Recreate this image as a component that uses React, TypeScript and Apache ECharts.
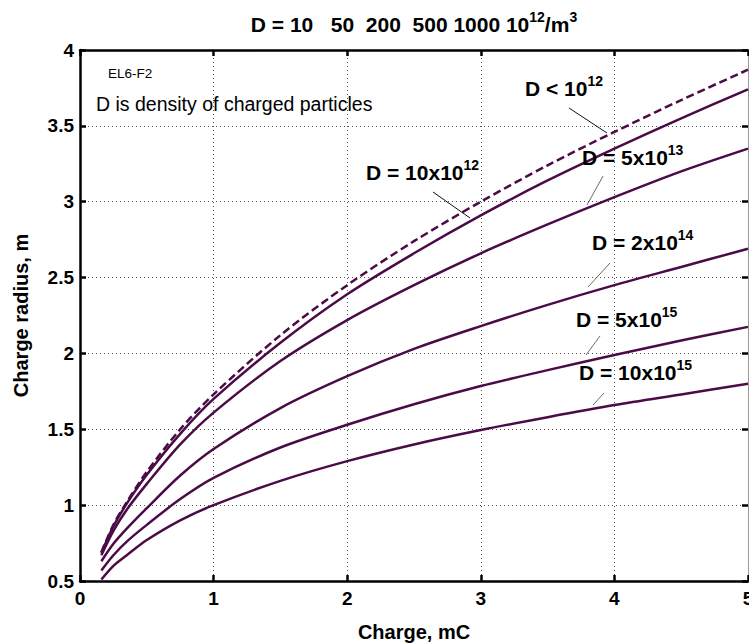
import React, { useEffect, useRef } from "react";
import * as echarts from "echarts";

const FONT = "'Liberation Sans', Arial, Helvetica, sans-serif";
const LINE_COLOR = "#4b0b47";

const charge = [0.16, 0.25, 0.35, 0.5, 0.75, 1, 1.5, 2, 2.5, 3, 3.5, 4, 4.5, 5];
const rBelow1e12 = [0.69, 0.87, 1.02, 1.22, 1.5, 1.73, 2.12, 2.45, 2.74, 3.0, 3.24, 3.46, 3.67, 3.87];
const r10e12 = [0.685, 0.86, 1.01, 1.2, 1.47, 1.7, 2.07, 2.39, 2.66, 2.91, 3.14, 3.35, 3.55, 3.74];
const r5e13 = [0.67, 0.83, 0.97, 1.14, 1.4, 1.61, 1.95, 2.22, 2.45, 2.66, 2.85, 3.03, 3.2, 3.35];
const r2e14 = [0.63, 0.745, 0.845, 0.98, 1.195, 1.37, 1.64, 1.85, 2.03, 2.18, 2.32, 2.45, 2.57, 2.69];
const r5e15 = [0.57, 0.67, 0.76, 0.87, 1.04, 1.18, 1.38, 1.53, 1.665, 1.785, 1.89, 1.99, 2.085, 2.175];
const r10e15 = [0.51, 0.6, 0.67, 0.77, 0.9, 1.0, 1.16, 1.29, 1.4, 1.495, 1.58, 1.66, 1.73, 1.8];

const seriesNames = ["D < 10^12", "D = 10x10^12", "D = 5x10^13", "D = 2x10^14", "D = 5x10^15", "D = 10x10^15"];
const seriesValues = [rBelow1e12, r10e12, r5e13, r2e14, r5e15, r10e15];

const supRich = {
  sup: { fontSize: 14, fontWeight: "bold", fontFamily: FONT, fill: "#000", verticalAlign: "top", lineHeight: 15 },
};

function label(text: string, x: number, y: number, size = 21) {
  return {
    type: "text",
    x,
    y,
    style: {
      text,
      fontSize: size,
      fontWeight: "bold",
      fontFamily: FONT,
      fill: "#000",
      verticalAlign: "middle",
      align: "left",
      lineHeight: 29,
      rich: supRich,
    },
    z: 10,
  };
}

function leader(x1: number, y1: number, x2: number, y2: number, color = "#111", w = 1) {
  return {
    type: "line",
    shape: { x1, y1, x2, y2 },
    style: { stroke: color, lineWidth: w },
    z: 10,
  };
}

export default function App() {
  const ref = useRef<HTMLDivElement>(null);
  useEffect(() => {
    if (!ref.current) return;
    const chart = echarts.init(ref.current, undefined, { renderer: "svg" });
    const axisLabelStyle = { fontSize: 19, fontWeight: "bold", color: "#000", fontFamily: FONT };
    const thick = { color: "#000", width: 2.5 };
    const option: any = {
      animation: false,
      backgroundColor: "#fff",
      grid: { left: 80, right: 1, top: 50, bottom: 62, containLabel: false, outerBoundsMode: "none" },
      xAxis: [
        {
          type: "value",
          min: 0,
          max: 5,
          interval: 1,
          position: "bottom",
          name: "Charge, mC",
          nameLocation: "middle",
          nameGap: 41,
          nameTextStyle: { fontSize: 20, fontWeight: "bold", color: "#000", fontFamily: FONT },
          axisLine: { show: true, onZero: false, lineStyle: thick },
          axisTick: { show: true, inside: true, length: 6, lineStyle: thick },
          axisLabel: { ...axisLabelStyle, margin: 8 },
          splitLine: { show: true, lineStyle: { type: [1, 3], color: "#555", width: 1 } },
        },
        {
          type: "value",
          min: 0,
          max: 5,
          interval: 1,
          position: "top",
          axisLine: { show: true, onZero: false, lineStyle: thick },
          axisTick: { show: true, inside: true, length: 6, lineStyle: thick },
          axisLabel: { show: false },
          splitLine: { show: false },
        },
      ],
      yAxis: [
        {
          type: "value",
          min: 0.5,
          max: 4,
          interval: 0.5,
          position: "left",
          name: "Charge radius, m",
          nameLocation: "middle",
          nameGap: 49,
          nameTextStyle: { fontSize: 20, fontWeight: "bold", color: "#000", fontFamily: FONT },
          axisLine: { show: true, onZero: false, lineStyle: thick },
          axisTick: { show: true, inside: true, length: 6, lineStyle: thick },
          axisLabel: { ...axisLabelStyle, margin: 6 },
          splitLine: { show: true, lineStyle: { type: [1, 3], color: "#555", width: 1 } },
        },
        {
          type: "value",
          min: 0.5,
          max: 4,
          interval: 0.5,
          position: "right",
          axisLine: { show: true, onZero: false, lineStyle: { color: "#999", width: 1 } },
          axisTick: { show: true, inside: true, length: 6, lineStyle: thick },
          axisLabel: { show: false },
          splitLine: { show: false },
        },
      ],
      series: seriesValues.map((vals, i) => ({
        name: seriesNames[i],
        type: "line",
        xAxisIndex: 0,
        yAxisIndex: 0,
        showSymbol: false,
        smooth: 0.3,
        data: charge.map((c, j) => [c, vals[j]]),
        lineStyle: { color: LINE_COLOR, width: 2.5, type: i === 0 ? [8, 4] : "solid" },
        z: 5,
      })),
      graphic: [
        {
          type: "text",
          x: 414,
          y: 24,
          style: {
            text: "D = 10   50  200  500 1000 10{sup|12}/m{sup|3}",
            fontSize: 21,
            fontWeight: "bold",
            fontFamily: FONT,
            fill: "#000",
            align: "center",
            verticalAlign: "middle",
            lineHeight: 29,
            rich: supRich,
          },
        },
        {
          type: "text",
          x: 108,
          y: 73,
          style: { text: "EL6-F2", fontSize: 13.5, fontFamily: FONT, fill: "#000", align: "left", verticalAlign: "middle" },
        },
        {
          type: "text",
          x: 96,
          y: 104,
          style: {
            text: "D is density of charged particles",
            fontSize: 19.5,
            fontFamily: FONT,
            fill: "#000",
            align: "left",
            verticalAlign: "middle",
          },
        },
        label("D < 10{sup|12}", 525, 88),
        leader(569, 108, 607, 133),
        label("D = 10x10{sup|12}", 366, 172),
        leader(433, 192, 470, 218),
        label("D = 5x10{sup|13}", 582, 157),
        leader(603, 176, 587, 205, "#444", 0.8),
        label("D = 2x10{sup|14}", 592, 242),
        leader(610, 263, 588, 287, "#444", 0.8),
        label("D = 5x10{sup|15}", 576, 319),
        leader(600, 336, 586, 355, "#444", 0.8),
        label("D = 10x10{sup|15}", 579, 372),
        leader(604, 393, 593, 405, "#444", 0.8),
      ],
    };
    chart.setOption(option);
    return () => chart.dispose();
  }, []);
  return (
    <div
      ref={ref}
      style={{ position: "fixed", left: 0, top: 0, width: 749, height: 643, background: "#fff" }}
    />
  );
}
